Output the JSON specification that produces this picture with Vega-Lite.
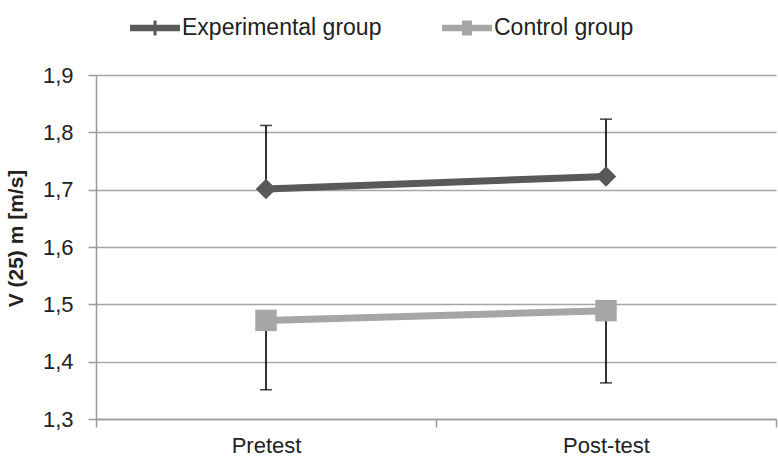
{
  "$schema": "https://vega.github.io/schema/vega-lite/v6.json",
  "autosize": {"type": "none"},
  "width": 680,
  "height": 344,
  "padding": {"left": 96, "top": 75, "right": 2, "bottom": 47},
  "background": "white",
  "config": {
    "view": {"stroke": null},
    "font": "Liberation Sans",
    "axis": {"labelFont": "Liberation Sans", "titleFont": "Liberation Sans", "labelColor": "#222222", "titleColor": "#222222"}
  },
  "data": {
    "values": [
      {"group": "Experimental group", "test": "Pretest", "mean": 1.701, "errEnd": 1.812},
      {"group": "Experimental group", "test": "Post-test", "mean": 1.723, "errEnd": 1.823},
      {"group": "Control group", "test": "Pretest", "mean": 1.472, "errEnd": 1.351},
      {"group": "Control group", "test": "Post-test", "mean": 1.489, "errEnd": 1.363}
    ]
  },
  "encoding": {
    "x": {
      "field": "test", "type": "nominal",
      "sort": ["Pretest", "Post-test"],
      "scale": {"paddingInner": 0, "paddingOuter": 0},
      "axis": {
        "title": null, "labelAngle": 0, "labelFontSize": 22, "labelPadding": 8,
        "domainColor": "#999999", "domainWidth": 1.5, "tickColor": "#999999", "tickWidth": 1.5, "tickSize": 8,
        "tickBand": "extent", "grid": false
      }
    }
  },
  "layer": [
    {
      "mark": {"type": "rule", "color": "black", "strokeWidth": 1.6},
      "encoding": {
        "y": {
          "field": "mean", "type": "quantitative",
          "scale": {"domain": [1.3, 1.9], "zero": false, "nice": false},
          "axis": {
            "title": "V (25) m [m/s]", "titleFontSize": 21, "titleFontWeight": "bold",
            "titleX": -70, "titleY": 163, "titleAngle": -90, "titleAlign": "center", "titleBaseline": "bottom",
            "values": [1.3, 1.4, 1.5, 1.6, 1.7, 1.8, 1.9],
            "labelExpr": "replace(format(datum.value, '.1f'), '.', ',')",
            "labelFontSize": 22, "labelPadding": 15,
            "domainColor": "#999999", "domainWidth": 1.5, "tickColor": "#999999", "tickWidth": 1.5, "tickSize": 8,
            "gridColor": "#a6a6a6", "gridWidth": 1.5
          }
        },
        "y2": {"field": "errEnd"}
      }
    },
    {
      "mark": {"type": "tick", "color": "black", "thickness": 1.6, "size": 12},
      "encoding": {"y": {"field": "errEnd", "type": "quantitative"}}
    },
    {
      "mark": {"type": "line", "strokeWidth": 7},
      "encoding": {
        "y": {"field": "mean", "type": "quantitative"},
        "color": {
          "field": "group", "type": "nominal",
          "sort": ["Experimental group", "Control group"],
          "scale": {"domain": ["Experimental group", "Control group"], "range": ["#595959", "#a6a6a6"]},
          "legend": {
            "title": null, "orient": "none", "direction": "horizontal", "columns": 2,
            "legendX": 34, "legendY": -72,
            "labelFontSize": 23, "labelColor": "#222222", "labelOffset": 2, "labelLimit": 400,
            "symbolSize": 2500, "symbolStrokeWidth": 0, "columnPadding": 60,
            "symbolType": "M-1,-0.14H1V0.14H-1Z",
            "encode": {
              "symbols": {
                "update": {
                  "shape": {"signal": "datum.value === 'Experimental group' ? 'M-1,-0.13H1V0.13H-1Z M-0.06,-0.3H0.06V0.3H-0.06Z' : 'M-1,-0.13H1V0.13H-1Z M-0.2,-0.3H0.2V0.3H-0.2Z'"},
                  "fill": {"signal": "datum.value === 'Experimental group' ? '#595959' : '#a6a6a6'"},
                  "fillOpacity": {"value": 1},
                  "strokeWidth": {"value": 0}
                }
              }
            }
          }
        }
      }
    },
    {
      "transform": [{"filter": "datum.group === 'Experimental group'"}],
      "mark": {"type": "point", "shape": "diamond", "filled": true, "size": 420, "color": "#595959", "opacity": 1},
      "encoding": {"y": {"field": "mean", "type": "quantitative"}}
    },
    {
      "transform": [{"filter": "datum.group === 'Control group'"}],
      "mark": {"type": "point", "shape": "square", "filled": true, "size": 460, "color": "#a6a6a6", "opacity": 1},
      "encoding": {"y": {"field": "mean", "type": "quantitative"}}
    }
  ]
}
